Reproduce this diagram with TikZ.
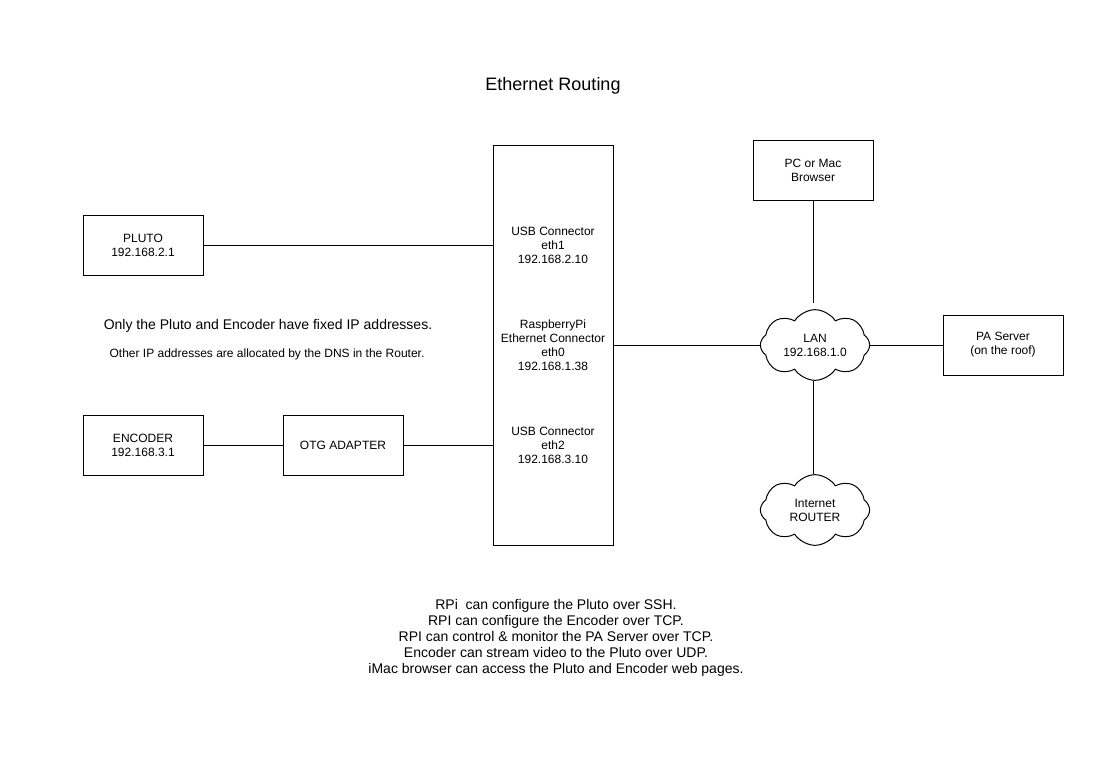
\documentclass[tikz,border=0pt]{standalone}
\usepackage{fontspec}
\setmainfont{Liberation Sans}
\usetikzlibrary{shapes.symbols}

\tikzset{
    box/.style={draw, line width=0.75pt, minimum width=90pt, minimum height=45pt,
        inner sep=0pt, align=center, font=\fontsize{9}{10.5}\selectfont},
    lbl/.style={align=center, font=\fontsize{9}{10.5}\selectfont},
    cloudy/.style={draw, cloud, cloud puffs=8, cloud puff arc=115, cloud ignores aspect,
        line width=0.75pt, minimum width=82pt, minimum height=53pt, inner sep=0pt,
        align=center, font=\fontsize{9}{10.5}\selectfont},
    link/.style={line width=0.75pt}
}

\begin{document}
\begin{tikzpicture}[x=0.75pt, y=-0.75pt]
    \useasboundingbox (0,0) rectangle (1114,758);

    % Title
    \node[font=\fontsize{13.5}{16}\selectfont] (title) at (553,86) {Ethernet Routing};

    % RaspberryPi
    \node[box, minimum height=300pt] (rpi) at (553,345) {};
    \node[lbl] (eth1) at (553,245) {USB Connector\\eth1\\192.168.2.10};
    \node[lbl] (eth0) at (553,345) {RaspberryPi\\Ethernet Connector\\eth0\\192.168.1.38};
    \node[lbl] (eth2) at (553,445) {USB Connector\\eth2\\192.168.3.10};

    % Left side
    \node[box] (pluto) at (143,245) {PLUTO\\192.168.2.1};
    \node[box] (encoder) at (143,445) {ENCODER\\192.168.3.1};
    \node[box] (otg) at (343,445) {OTG ADAPTER};

    % Right side
    \node[box] (pc) at (813,170) {PC or Mac\\Browser};
    \node[box] (pa) at (1003,345) {PA Server\\(on the roof)};
    \node[cloudy] (lan) at (815,345) {LAN\\192.168.1.0};
    \node[cloudy] (router) at (815,510) {Internet\\ROUTER};

    % Links
    \draw[link] (pluto.east) -- (pluto.east -| rpi.west);
    \draw[link] (encoder.east) -- (otg.west);
    \draw[link] (otg.east) -- (otg.east -| rpi.west);
    \draw[link] (lan.west -| rpi.east) -- (lan.west);
    \draw[link] (lan.east) -- (lan.east -| pa.west);
    \draw[link] (pc.south) -- ([yshift=5pt]pc.south |- lan.north);
    \draw[link] (lan.south -| pc.south) -- (router.north -| pc.south);

    % Notes
    \node[font=\fontsize{10.5}{12}\selectfont] (fixed) at (268,326) {Only the Pluto and Encoder have fixed IP addresses.};
    \node[font=\fontsize{9}{10.5}\selectfont] (dns) at (267,354) {Other IP addresses are allocated by the DNS in the Router.};
    \node[align=center, font=\fontsize{10.5}{12}\selectfont] (notes) at (556,638)
        {RPi\ \ can configure the Pluto over SSH.\\
         RPI can configure the Encoder over TCP.\\
         RPI can control \& monitor the PA Server over TCP.\\
         Encoder can stream video to the Pluto over UDP.\\
         iMac browser can access the Pluto and Encoder web pages.};
\end{tikzpicture}
\end{document}
